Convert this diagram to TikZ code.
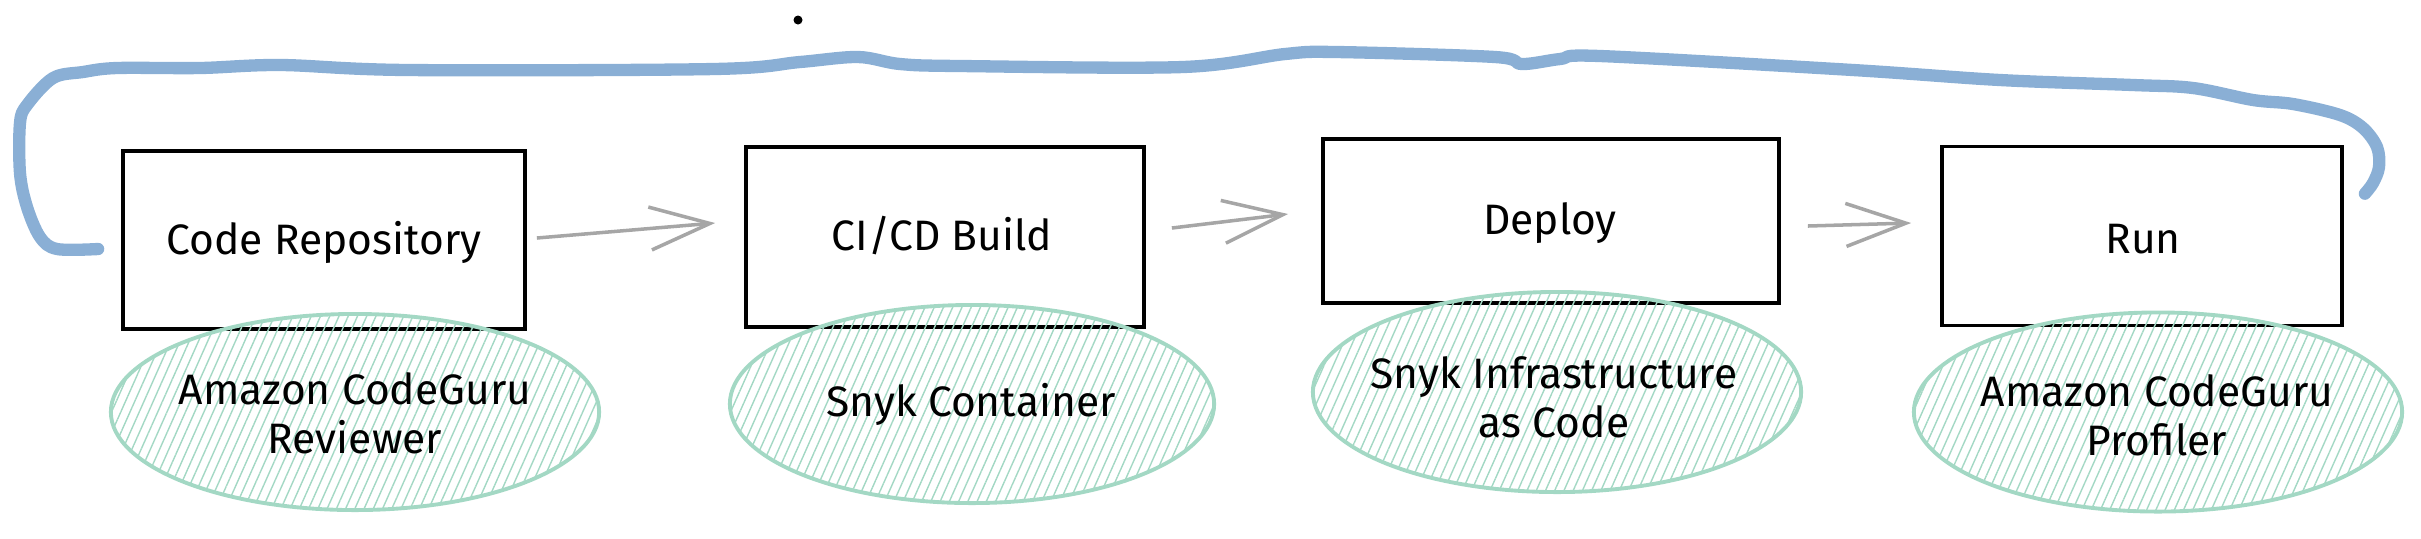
\documentclass[tikz,border=0pt]{standalone}
\usepackage{fontspec}
\setmainfont{Fira Sans}
\usetikzlibrary{shapes.geometric,arrows.meta,patterns.meta,calc}
\definecolor{loopblue}{HTML}{8AAFD5}
\definecolor{hatchgreen}{HTML}{A3D8C4}
\definecolor{arrowgray}{HTML}{A6A6A6}
\begin{document}
\begin{tikzpicture}[x=0.01cm,y=-0.01cm,
  stagebox/.style={draw=black, line width=1pt, inner sep=0pt},
  toolshape/.style={ellipse, draw=hatchgreen, line width=1.1pt, inner sep=0pt,
    pattern={Lines[angle=66,distance=2.4pt,line width=0.4pt]}, pattern color=hatchgreen},
  label/.style={font=\fontsize{12.1}{14}\selectfont, align=center, inner sep=0pt},
  flow/.style={draw=arrowgray, line width=1pt, -{Straight Barb[length=6mm,width=4.3mm]}},
  loopline/.style={draw=loopblue, line width=3.5pt, line cap=round, line join=round}]
\useasboundingbox (0,0) rectangle (2421,538);
% stage boxes
\node[stagebox, minimum width=4.02cm, minimum height=1.78cm] (b1) at (324,240) {};
\node[stagebox, minimum width=3.98cm, minimum height=1.80cm] (b2) at (945,237) {};
\node[stagebox, minimum width=4.56cm, minimum height=1.64cm] (b3) at (1551,221) {};
\node[stagebox, minimum width=4.00cm, minimum height=1.79cm] (b4) at (2142,236) {};
\node[label] (l1) at (324,242) {Code Repository};
\node[label] (l2) at (942,236) {CI/CD Build};
\node[label] (l3) at (1550,223) {Deploy};
\node[label] (l4) at (2143,239) {Run};
% tool ellipses
\node[toolshape, minimum width=4.88cm, minimum height=1.96cm] (e1) at (355,412) {};
\node[toolshape, minimum width=4.84cm, minimum height=1.98cm] (e2) at (972,404) {};
\node[toolshape, minimum width=4.88cm, minimum height=2.00cm] (e3) at (1557,392) {};
\node[toolshape, minimum width=4.88cm, minimum height=1.99cm] (e4) at (2158,412) {};
\node[label] (t1) at (355,413) {Amazon CodeGuru\\Reviewer};
\node[label] (t2) at (971,404) {Snyk Container};
\node[label] (t3) at (1554,397) {Snyk Infrastructure\\as Code};
\node[label] (t4) at (2157,415) {Amazon CodeGuru\\Profiler};
% flow arrows
\draw[flow] ([shift={(10,-2)}]b1.east) -- ([shift={(-29,-14)}]b2.west);
\draw[flow] ([shift={(26,-9)}]b2.east) -- ([shift={(-33,-7)}]b3.west);
\draw[flow] ([shift={(27,5)}]b3.east) -- ([shift={(-29,-13)}]b4.west);
% feedback loop
\coordinate (loopstart) at ([shift={(-23,9)}]b1.west);
\coordinate (loopend) at ([shift={(21,49)}]b4.north east);
\draw[loopline] plot[smooth, tension=0.55] coordinates {
  (loopstart) (57,249) (40,237) (27,207) (20,173) (20,123) (27,105) (53,78)
  (83,72) (117,68) (200,68) (281,65) (408,70) (714,69) (800,62) (858,57)
  (900,64) (960,66) (1183,67) (1285,54) (1336,52) (1495,57) (1522,64)
  (1560,59) (1600,56) (1853,70) (2000,80) (2133,85) (2193,88) (2253,100)
  (2293,104) (2340,115) (2363,128) (2377,147) (2379,167) (2373,183)
  (loopend)};
% stray dot
\fill (798,20) circle (0.045cm);
\end{tikzpicture}
\end{document}
